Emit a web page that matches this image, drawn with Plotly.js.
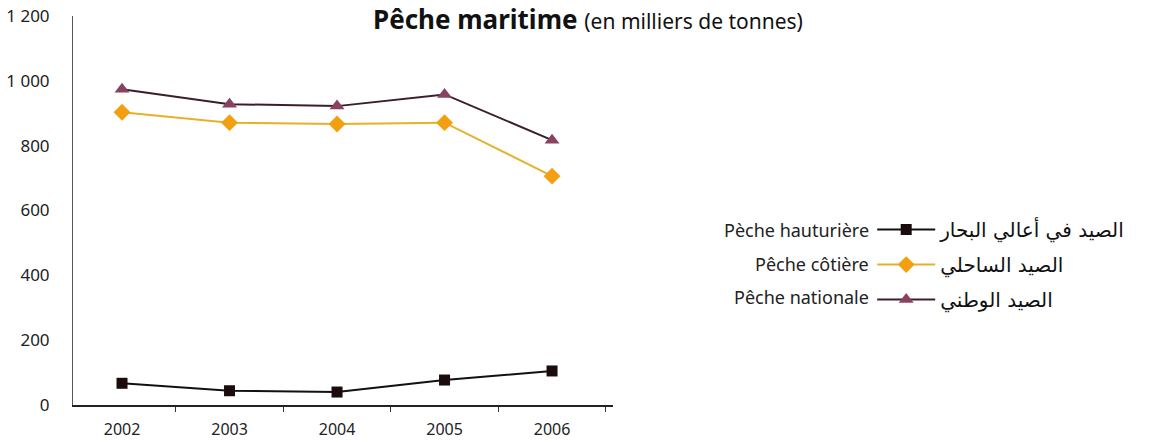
<!DOCTYPE html>
<html>
<head>
<meta charset="utf-8">
<script src="https://cdn.plot.ly/plotly-3.0.1.min.js"></script>
<style>
html,body{margin:0;padding:0;background:#fff;}
#chart{width:1156px;height:442px;}
</style>
</head>
<body>
<div id="chart"></div>
<script>
const years = ['2002', '2003', '2004', '2005', '2006'];
const hauturiere = [67, 44, 40, 77, 105];
const cotiere = [903, 871, 867, 871, 706];
const nationale = [974, 928, 922, 958, 817];

const namesAr = ['الصيد في أعالي البحار', 'الصيد الساحلي', 'الصيد الوطني'];
const namesFr = ['Pèche hauturière', 'Pêche côtière', 'Pêche nationale'];
const yTicks = [0, 200, 400, 600, 800, 1000, 1200];

const font = 'Noto Sans, Open Sans, DejaVu Sans, sans-serif';
const arFont = 'DejaVu Sans, Noto Sans, sans-serif';

const traces = [
  {x: years, y: hauturiere, name: namesAr[0], legendgroup: 'a', mode: 'lines+markers',
   line: {color: '#111', width: 2}, marker: {symbol: 'square', size: 11, color: '#1a0c0c'}},
  {x: years, y: cotiere, name: namesAr[1], legendgroup: 'b', mode: 'lines+markers',
   line: {color: '#E8B02A', width: 2}, marker: {symbol: 'diamond', size: 13, color: '#F2A012'}},
  {x: years, y: nationale, name: namesAr[2], legendgroup: 'c', mode: 'lines+markers',
   line: {color: '#3a1e2c', width: 2}, marker: {symbol: 'triangle-up', size: 13, color: '#8a4262'}}
];

const rowsY = [0.450, 0.3625, 0.2776];
const annotations = namesFr.map((t, i) => ({
  text: t, xref: 'paper', yref: 'paper', x: 1.478, y: rowsY[i],
  xanchor: 'right', yanchor: 'middle', showarrow: false,
  font: {family: font, size: 18, color: '#222'}
}));
annotations.push({
  text: '<b>Pêche maritime</b> <span style="font-size:21px">(en milliers de tonnes)</span>',
  xref: 'paper', yref: 'paper', x: 0.554, y: 1.0411, xanchor: 'left', yanchor: 'top',
  borderpad: 0, showarrow: false, font: {family: font, size: 26, color: '#111'}
});

const layout = {
  width: 1156, height: 442,
  margin: {l: 73, r: 543, t: 16, b: 37},
  paper_bgcolor: '#fff', plot_bgcolor: '#fff',
  separators: ', ',
  font: {family: font, size: 16, color: '#222'},
  showlegend: true,
  legend: {x: 1.48, y: 0.501, xanchor: 'left', yanchor: 'top', xref: 'paper', yref: 'paper',
    traceorder: 'grouped', tracegroupgap: 6, itemwidth: 58,
    font: {family: arFont, size: 20, color: '#111'}, bgcolor: 'rgba(0,0,0,0)'},
  xaxis: {type: 'category', range: [-0.456, 4.567], showline: true, linecolor: '#222', linewidth: 1.5,
    ticks: 'outside', tickson: 'boundaries', ticklen: 5, tickcolor: '#333', showgrid: false,
    zeroline: false, ticklabelstandoff: 9, tickfont: {family: font, size: 16, color: '#222'}},
  yaxis: {range: [0, 1200], tickvals: yTicks, showline: true, linecolor: '#555', linewidth: 1,
    ticks: '', showgrid: false, zeroline: false, separatethousands: true, ticklabelstandoff: 19,
    tickfont: {family: font, size: 17, color: '#222'}},
  annotations: annotations
};

Plotly.newPlot('chart', traces, layout, {displayModeBar: false, staticPlot: true});
</script>
</body>
</html>
